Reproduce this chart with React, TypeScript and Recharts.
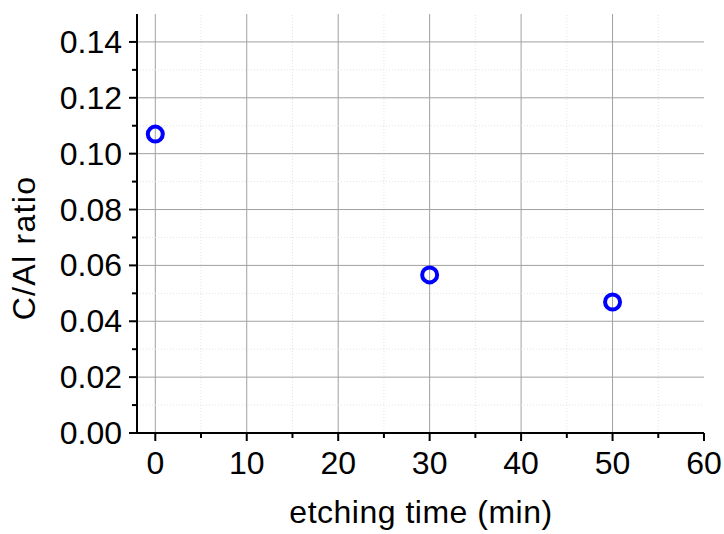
import React from 'react';
import { ScatterChart, Scatter, XAxis, YAxis, ReferenceLine } from 'recharts';

const etchingTime = [0, 30, 50];
const cAlRatio = [0.107, 0.0566, 0.0469];

const xTicks = [0, 5, 10, 15, 20, 25, 30, 35, 40, 45, 50, 55, 60];
const xMajorTicks = [0, 10, 20, 30, 40, 50, 60];
const yTicks = [0, 0.01, 0.02, 0.03, 0.04, 0.05, 0.06, 0.07, 0.08, 0.09, 0.1, 0.11, 0.12, 0.13, 0.14];
const yMajorTicks = [0, 0.02, 0.04, 0.06, 0.08, 0.1, 0.12, 0.14];
const yLabels = ['0.00', '0.02', '0.04', '0.06', '0.08', '0.10', '0.12', '0.14'];

const data = etchingTime.map((t, i) => ({ t, r: cAlRatio[i] }));

const FONT = '"Liberation Sans", Arial, sans-serif';
const MAJ = 8;
const MIN = 5;

const isMajorX = (v: number) => xMajorTicks.includes(v);
const isMajorY = (v: number) => yMajorTicks.some((m) => Math.abs(m - v) < 1e-9);

const BottomTick = (p: any) => {
  const v = p.payload.value;
  const maj = isMajorX(v);
  return (
    <g>
      <line x1={p.x} x2={p.x} y1={p.y} y2={p.y + (maj ? MAJ : MIN)} stroke="#000" strokeWidth={2} />
      {maj && (
        <text x={p.x} y={p.y + 41} textAnchor="middle" fontFamily={FONT} fontSize={32} fill="#000">
          {String(v)}
        </text>
      )}
    </g>
  );
};

const TopTick = (p: any) => {
  const maj = isMajorX(p.payload.value);
  return <line x1={p.x} x2={p.x} y1={p.y} y2={p.y + (maj ? MAJ : MIN)} stroke="#000" strokeWidth={2} />;
};

const LeftTick = (p: any) => {
  const v = p.payload.value;
  const maj = isMajorY(v);
  const idx = yMajorTicks.findIndex((m) => Math.abs(m - v) < 1e-9);
  return (
    <g>
      <line x1={p.x} x2={p.x - (maj ? MAJ : MIN)} y1={p.y} y2={p.y} stroke="#000" strokeWidth={2} />
      {maj && (
        <text x={p.x - 15} y={p.y + 11} textAnchor="end" fontFamily={FONT} fontSize={32} fill="#000">
          {yLabels[idx]}
        </text>
      )}
    </g>
  );
};

const RightTick = (p: any) => {
  const maj = isMajorY(p.payload.value);
  return <line x1={p.x} x2={p.x - (maj ? MAJ : MIN)} y1={p.y} y2={p.y} stroke="#000" strokeWidth={2} />;
};

const Circle = (p: any) => (
  <circle cx={p.cx} cy={p.cy} r={7.5} fill="none" stroke="#0000ff" strokeWidth={4} />
);

const axisLine = { stroke: '#000', strokeWidth: 2 };

export default function App() {
  return (
    <div style={{ position: 'absolute', left: 0, top: 0, width: 724, height: 534, background: '#fff' }}>
      <ScatterChart width={724} height={534} margin={{ top: 14, right: 20, bottom: 0, left: 0 }}>
        <XAxis
          xAxisId="b"
          type="number"
          dataKey="t"
          domain={[-2, 60]}
          ticks={xTicks}
          interval={0}
          orientation="bottom"
          height={101}
          axisLine={axisLine}
          tickLine={false}
          tickSize={0}
          tickMargin={0}
          tick={BottomTick}
          allowDataOverflow
        />
        <XAxis
          xAxisId="t"
          type="number"
          dataKey="t"
          domain={[-2, 60]}
          ticks={xTicks}
          interval={0}
          orientation="top"
          height={0}
          axisLine={axisLine}
          tickLine={false}
          tickSize={0}
          tickMargin={0}
          tick={TopTick}
          allowDataOverflow
        />
        <YAxis
          yAxisId="l"
          type="number"
          dataKey="r"
          domain={[0, 0.15]}
          ticks={yTicks}
          interval={0}
          orientation="left"
          width={137}
          axisLine={axisLine}
          tickLine={false}
          tickSize={0}
          tickMargin={0}
          tick={LeftTick}
          allowDataOverflow
        />
        <YAxis
          yAxisId="r"
          type="number"
          dataKey="r"
          domain={[0, 0.15]}
          ticks={yTicks}
          interval={0}
          orientation="right"
          width={0}
          axisLine={axisLine}
          tickLine={false}
          tickSize={0}
          tickMargin={0}
          tick={RightTick}
          allowDataOverflow
        />
        {xTicks.filter((v) => v < 60).map((v) => (
          <ReferenceLine
            key={'gx' + v}
            xAxisId="b"
            yAxisId="l"
            x={v}
            stroke={isMajorX(v) ? '#a0a0a0' : '#e2e2e2'}
            strokeWidth={1}
            strokeDasharray={isMajorX(v) ? undefined : '1 2'}
          />
        ))}
        {yTicks.filter((v) => v > 0).map((v) => (
          <ReferenceLine
            key={'gy' + v}
            xAxisId="b"
            yAxisId="l"
            y={v}
            stroke={isMajorY(v) ? '#a0a0a0' : '#e2e2e2'}
            strokeWidth={1}
            strokeDasharray={isMajorY(v) ? undefined : '1 2'}
          />
        ))}
        <Scatter
          xAxisId="b"
          yAxisId="l"
          data={data}
          dataKey="r"
          shape={Circle}
          isAnimationActive={false}
        />
        <Scatter xAxisId="t" yAxisId="r" data={data} dataKey="r" shape={() => <g />} isAnimationActive={false} />
        <text x={421} y={523} textAnchor="middle" fontFamily={FONT} fontSize={32} letterSpacing={0.5} fill="#000">
          etching time (min)
        </text>
        <text
          x={35}
          y={248}
          textAnchor="middle"
          transform="rotate(-90 35 248)"
          fontFamily={FONT}
          fontSize={32}
          letterSpacing={1.3}
          fill="#000"
        >
          C/Al ratio
        </text>
      </ScatterChart>
    </div>
  );
}
